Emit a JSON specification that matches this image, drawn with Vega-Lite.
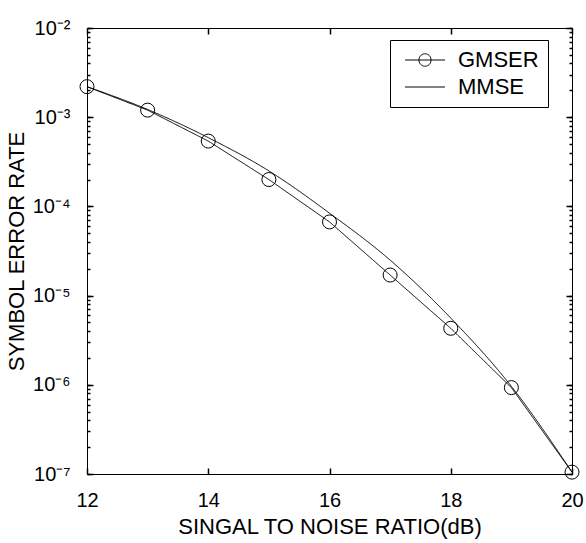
{
  "$schema": "https://vega.github.io/schema/vega-lite/v6.json",
  "width": 485,
  "height": 446,
  "autosize": {"type": "none"},
  "padding": {"left": 87, "top": 28, "right": 14, "bottom": 69},
  "background": "white",
  "config": {
    "view": {"stroke": "black", "strokeWidth": 1},
    "font": "Liberation Sans",
    "axis": {
      "grid": false, "domain": false, "ticks": true, "tickColor": "black", "tickWidth": 1.5, "tickOpacity": 1,
      "labelColor": "black", "titleColor": "black",
      "labelFont": "Liberation Sans", "titleFont": "Liberation Sans",
      "titleFontWeight": "normal", "labelFontSize": 20, "titleFontSize": 22,
      "labelFlush": false, "labelOverlap": false
    }
  },
  "data": {
    "values": [
      {"series": "GMSER", "snr": 12, "ser": 0.0022},
      {"series": "GMSER", "snr": 13, "ser": 0.0012},
      {"series": "GMSER", "snr": 14, "ser": 0.00054},
      {"series": "GMSER", "snr": 15, "ser": 0.0002},
      {"series": "GMSER", "snr": 16, "ser": 0.000067},
      {"series": "GMSER", "snr": 17, "ser": 0.000017},
      {"series": "GMSER", "snr": 18, "ser": 0.0000043},
      {"series": "GMSER", "snr": 19, "ser": 0.00000093},
      {"series": "GMSER", "snr": 20, "ser": 0.000000105},
      {"series": "MMSE", "snr": 12, "ser": 0.0022},
      {"series": "MMSE", "snr": 13, "ser": 0.00122},
      {"series": "MMSE", "snr": 14, "ser": 0.00059},
      {"series": "MMSE", "snr": 15, "ser": 0.00025},
      {"series": "MMSE", "snr": 16, "ser": 0.000084},
      {"series": "MMSE", "snr": 17, "ser": 0.000025},
      {"series": "MMSE", "snr": 18, "ser": 0.0000056},
      {"series": "MMSE", "snr": 19, "ser": 0.00000096},
      {"series": "MMSE", "snr": 20, "ser": 0.000000105}
    ]
  },
  "resolve": {"axis": {"x": "independent", "y": "independent"}},
  "layer": [
    {
      "transform": [{"filter": "datum.series == 'GMSER'"}],
      "mark": {"type": "line", "color": "black", "strokeWidth": 1},
      "encoding": {
        "x": {
          "field": "snr", "type": "quantitative",
          "scale": {"domain": [12, 20], "nice": false, "zero": false},
          "axis": {
            "orient": "bottom", "values": [12, 14, 16, 18, 20],
            "offset": -6, "tickSize": 6, "labelPadding": 16,
            "title": "SINGAL TO NOISE RATIO(dB)", "titlePadding": 6
          }
        },
        "y": {
          "field": "ser", "type": "quantitative",
          "scale": {"type": "log", "domain": [1e-7, 0.01], "nice": false},
          "axis": {
            "orient": "left",
            "values": [1e-7, 2e-7, 3e-7, 4e-7, 5e-7, 6e-7, 7e-7, 8e-7, 9e-7, 1e-6, 2e-6, 3e-6, 4e-6, 5e-6, 6e-6, 7e-6, 8e-6, 9e-6, 1e-5, 2e-5, 3e-5, 4e-5, 5e-5, 6e-5, 7e-5, 8e-5, 9e-5, 1e-4, 2e-4, 3e-4, 4e-4, 5e-4, 6e-4, 7e-4, 8e-4, 9e-4, 1e-3, 2e-3, 3e-3, 4e-3, 5e-3, 6e-3, 7e-3, 8e-3, 9e-3, 1e-2],
            "labelExpr": "abs(datum.value / pow(10, round(log(datum.value) / LN10)) - 1) < 0.001 ? '10⁻' + ['⁰','¹','²','³','⁴','⁵','⁶','⁷','⁸','⁹'][abs(round(log(datum.value) / LN10))] : ''",
            "offset": -3, "tickSize": 3, "labelPadding": 17,
            "title": "SYMBOL ERROR RATE", "titlePadding": 4
          }
        },
        "strokeDash": {
          "field": "series", "type": "nominal",
          "scale": {"domain": ["GMSER", "MMSE"], "range": [[1, 0], [1, 0]]},
          "legend": {
            "orient": "none", "legendX": 303, "legendY": 12, "title": null,
            "strokeColor": "black", "fillColor": "white", "padding": 9,
            "symbolOffset": 9,
            "symbolType": {"expr": "datum.value == 'GMSER' ? 'M-1.56,0L2.89,0M0,0A0.667,0.667 0 1,0 1.333,0A0.667,0.667 0 1,0 0,0' : 'M-1.56,0L2.89,0'"},
            "symbolSize": 324, "symbolStrokeColor": "black", "symbolStrokeWidth": 1,
            "symbolFillColor": "transparent",
            "labelFontSize": 22, "labelFont": "Liberation Sans", "labelColor": "black",
            "labelOffset": 28, "rowPadding": 5
          }
        }
      }
    },
    {
      "transform": [{"filter": "datum.series == 'MMSE'"}],
      "mark": {"type": "line", "color": "black", "strokeWidth": 1, "interpolate": "monotone"},
      "encoding": {
        "x": {
          "field": "snr", "type": "quantitative",
          "axis": {"orient": "top", "values": [12, 14, 16, 18, 20], "labels": false, "title": null, "offset": -6, "tickSize": 6}
        },
        "y": {
          "field": "ser", "type": "quantitative",
          "axis": {"orient": "left", "values": [1e-7, 1e-6, 1e-5, 1e-4, 1e-3, 1e-2], "labels": false, "title": null, "offset": -6, "tickSize": 6}
        },
        "strokeDash": {"field": "series", "type": "nominal"}
      }
    },
    {
      "transform": [{"filter": "datum.series == 'GMSER'"}],
      "mark": {"type": "point", "shape": "circle", "size": 196, "filled": false, "stroke": "black", "strokeWidth": 1, "opacity": 1},
      "encoding": {
        "x": {"field": "snr", "type": "quantitative", "axis": null},
        "y": {
          "field": "ser", "type": "quantitative",
          "axis": {
            "orient": "right", "labels": false, "title": null,
            "values": [1e-7, 2e-7, 3e-7, 4e-7, 5e-7, 6e-7, 7e-7, 8e-7, 9e-7, 1e-6, 2e-6, 3e-6, 4e-6, 5e-6, 6e-6, 7e-6, 8e-6, 9e-6, 1e-5, 2e-5, 3e-5, 4e-5, 5e-5, 6e-5, 7e-5, 8e-5, 9e-5, 1e-4, 2e-4, 3e-4, 4e-4, 5e-4, 6e-4, 7e-4, 8e-4, 9e-4, 1e-3, 2e-3, 3e-3, 4e-3, 5e-3, 6e-3, 7e-3, 8e-3, 9e-3, 1e-2],
            "offset": -3, "tickSize": 3
          }
        }
      }
    },
    {
      "transform": [{"filter": "datum.series == 'GMSER'"}],
      "mark": {"type": "text", "text": ""},
      "encoding": {
        "x": {"field": "snr", "type": "quantitative", "axis": null},
        "y": {
          "field": "ser", "type": "quantitative",
          "axis": {"orient": "right", "values": [1e-7, 1e-6, 1e-5, 1e-4, 1e-3, 1e-2], "labels": false, "title": null, "offset": -6, "tickSize": 6}
        }
      }
    }
  ]
}
